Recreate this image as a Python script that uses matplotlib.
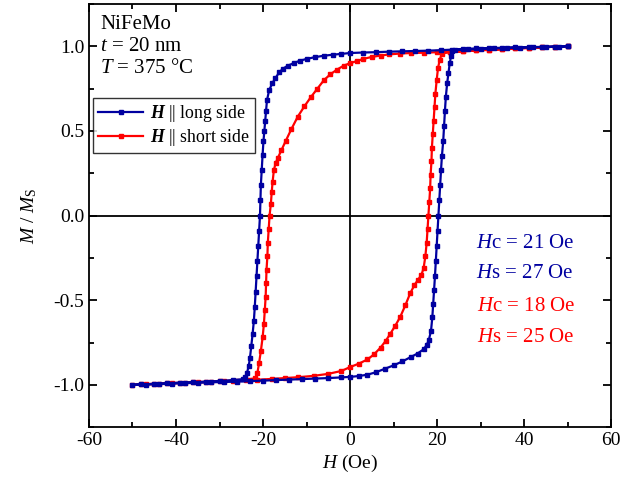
import numpy as np
import matplotlib
matplotlib.use('Agg')
import matplotlib.pyplot as plt
from matplotlib.ticker import MultipleLocator

# 字体设置
plt.rcParams['font.family'] = ['Liberation Serif', 'DejaVu Serif']
plt.rcParams['mathtext.fontset'] = 'custom'
plt.rcParams['mathtext.rm'] = 'Liberation Serif'
plt.rcParams['mathtext.it'] = 'Liberation Serif:italic'
plt.rcParams['mathtext.bf'] = 'Liberation Serif:bold:italic'
plt.rcParams['axes.unicode_minus'] = False

# 长边方向 (blue): 下降支 + 上升支
long_H = [50, 47, 44, 41, 38, 35, 32, 29, 26, 23.5, 21, 18, 15, 12, 9, 6, 3, 0,
          -2, -4, -6, -8, -10, -11.5, -13, -14.3, -15.4, -16.3, -17.2, -17.9, -18.6,
          -19.1, -19.3, -19.5, -19.7, -19.9, -20.1, -20.3, -20.5, -20.6, -20.7,
          -20.9, -21.1, -21.3, -21.5, -21.7, -21.9, -22.1, -22.4, -22.7, -23.0,
          -23.3, -23.7, -24.1, -24.5, -27, -30, -33, -36, -39, -42, -45, -48, -50,
          -47, -44, -41, -38, -35, -32, -29, -26, -23, -20, -17, -14, -11, -8, -5,
          -2, 0, 2, 4, 6, 8, 10, 12, 14, 15.5, 16.9, 17.6, 18.1, 18.6, 18.9, 19.1,
          19.3, 19.5, 19.7, 19.9, 20.1, 20.3, 20.5, 20.7, 20.9, 21.1, 21.4, 21.6,
          21.8, 22.0, 22.3, 22.6, 22.9, 23.2, 23.5, 24, 27, 30, 33, 36, 39, 42, 45,
          48, 50]
long_M = [1.0, 0.998, 0.996, 0.995, 0.993, 0.991, 0.989, 0.987, 0.984, 0.98, 0.977,
          0.974, 0.972, 0.97, 0.968, 0.965, 0.963, 0.96,
          0.955, 0.95, 0.944, 0.936, 0.925, 0.915, 0.9, 0.885, 0.868, 0.845, 0.81,
          0.78, 0.74, 0.68, 0.62, 0.56, 0.50, 0.44, 0.36, 0.27, 0.18, 0.09, 0.0,
          -0.09, -0.18, -0.27, -0.36, -0.45, -0.54, -0.62, -0.70, -0.77, -0.84,
          -0.89, -0.93, -0.955, -0.966, -0.972, -0.977, -0.981, -0.984, -0.987,
          -0.99, -0.994, -0.997, -1.0,
          -0.998, -0.996, -0.993, -0.99, -0.988, -0.985, -0.983, -0.981, -0.978,
          -0.975, -0.972, -0.969, -0.966, -0.963, -0.96, -0.956, -0.953, -0.948,
          -0.94, -0.925, -0.905, -0.885, -0.862, -0.835, -0.815, -0.79, -0.765,
          -0.735, -0.68, -0.6, -0.52, -0.44, -0.36, -0.27, -0.18, -0.09, 0.0, 0.09,
          0.18, 0.27, 0.35, 0.44, 0.53, 0.62, 0.70, 0.78, 0.84, 0.90, 0.94, 0.97,
          0.977, 0.981, 0.984, 0.987, 0.99, 0.992, 0.994, 0.996, 0.998, 1.0]

# 短边方向 (red)
short_H = [50, 47, 44, 41, 38, 35, 32, 29, 26, 23, 20, 17, 14, 11.5, 9, 7, 5, 3,
           1.5, 0, -1.5, -3, -4.5, -6, -7.5, -9, -10.5, -12, -13.5, -14.8, -15.8,
           -16.6, -17.1, -17.5, -17.8, -18.0, -18.2, -18.5, -18.7, -18.9, -19.0,
           -19.2, -19.3, -19.4, -19.6, -19.8, -20.1, -20.5, -20.9, -21.3, -21.8,
           -24, -27, -30, -33, -36, -39, -42, -45, -48, -50,
           -47, -44, -41, -38, -35, -32, -29, -26, -23, -21.4, -18, -15, -12, -8.4,
           -5, -2, 0, 2, 4, 5.5, 7, 8.2, 9.2, 10.4, 11.5, 12.7, 13.8, 14.8, 15.6,
           16.4, 16.9, 17.3, 17.6, 17.8, 18.0, 18.2, 18.4, 18.5, 18.7, 18.8, 19.0,
           19.2, 19.4, 19.6, 19.9, 20.2, 20.6, 21.1, 23, 26, 29, 32, 35, 38, 41, 44,
           47, 50]
short_M = [1.0, 0.997, 0.994, 0.99, 0.987, 0.983, 0.979, 0.976, 0.972, 0.968, 0.965,
           0.962, 0.96, 0.957, 0.952, 0.945, 0.937, 0.925, 0.912, 0.9, 0.885, 0.862,
           0.835, 0.8, 0.75, 0.7, 0.645, 0.585, 0.51, 0.44, 0.385, 0.34, 0.31, 0.27,
           0.2, 0.14, 0.07, 0.0, -0.08, -0.16, -0.24, -0.32, -0.40, -0.48, -0.56,
           -0.64, -0.72, -0.8, -0.87, -0.93, -0.962, -0.97, -0.975, -0.979, -0.982,
           -0.985, -0.988, -0.991, -0.994, -0.997, -1.0,
           -0.997, -0.994, -0.991, -0.988, -0.985, -0.982, -0.979, -0.975, -0.972,
           -0.97, -0.965, -0.96, -0.955, -0.947, -0.935, -0.918, -0.895, -0.875,
           -0.85, -0.82, -0.78, -0.74, -0.7, -0.65, -0.6, -0.53, -0.46, -0.41, -0.38,
           -0.35, -0.31, -0.24, -0.16, -0.08, 0.0, 0.08, 0.16, 0.24, 0.32, 0.40,
           0.48, 0.56, 0.64, 0.72, 0.80, 0.87, 0.92, 0.957, 0.965, 0.97, 0.975,
           0.979, 0.983, 0.987, 0.99, 0.994, 0.997, 1.0]

blue = '#0000a0'
red = '#ff0000'

fig = plt.figure(figsize=(6.4, 4.91), dpi=100)
ax = fig.add_axes([0.139, 0.130, 0.816, 0.862])

ax.axhline(0, color='k', lw=1.3, zorder=1)
ax.axvline(0, color='k', lw=1.3, zorder=1)

l2, = ax.plot(short_H, short_M, color=red, lw=1.6, marker='s', ms=2.4,
              mec=red, mfc=red, zorder=2, label=r'$\mathbf{H}$ || short side')
l1, = ax.plot(long_H, long_M, color=blue, lw=1.6, marker='s', ms=2.4,
              mec=blue, mfc=blue, zorder=3, label=r'$\mathbf{H}$ || long side')

ax.set_xlim(-60, 60)
ax.set_ylim(-1.25, 1.25)
ax.xaxis.set_major_locator(MultipleLocator(20))
ax.xaxis.set_minor_locator(MultipleLocator(10))
ax.yaxis.set_major_locator(MultipleLocator(0.5))
ax.yaxis.set_minor_locator(MultipleLocator(0.25))
ax.yaxis.set_major_formatter(matplotlib.ticker.FormatStrFormatter('%.1f'))
ax.tick_params(which='both', direction='in', top=True, right=True,
               labelsize=14, width=1.3)
ax.tick_params(which='major', length=6)
ax.tick_params(which='minor', length=3.5)
for s in ax.spines.values():
    s.set_linewidth(1.3)

ax.set_xlabel(r'$H$ (Oe)', fontsize=14, labelpad=3)
ax.set_ylabel(r'$M$ / $M_{\rm S}$', fontsize=14, labelpad=10)

leg = ax.legend(handles=[l1, l2], loc='upper left', bbox_to_anchor=(0.008, 0.778),
                borderaxespad=0, fontsize=12.8, frameon=True, fancybox=False,
                handlelength=2.5, handletextpad=0.4, borderpad=0.3,
                labelspacing=0.15)
leg.get_frame().set_edgecolor('k')
leg.get_frame().set_linewidth(1.0)

ax.text(0.021, 0.975, 'NiFeMo', transform=ax.transAxes, fontsize=15, va='top')
ax.text(0.021, 0.922, r'$t$ = 20 nm', transform=ax.transAxes, fontsize=15, va='top')
ax.text(0.021, 0.869, r'$T$ = 375 °C', transform=ax.transAxes, fontsize=15, va='top')

ax.text(0.741, 0.435, r'$H$c = 21 Oe', transform=ax.transAxes, fontsize=15,
        va='center', color=blue)
ax.text(0.741, 0.364, r'$H$s = 27 Oe', transform=ax.transAxes, fontsize=15,
        va='center', color=blue)
ax.text(0.743, 0.284, r'$H$c = 18 Oe', transform=ax.transAxes, fontsize=15,
        va='center', color=red)
ax.text(0.743, 0.213, r'$H$s = 25 Oe', transform=ax.transAxes, fontsize=15,
        va='center', color=red)

plt.savefig('out.png', dpi=100)
